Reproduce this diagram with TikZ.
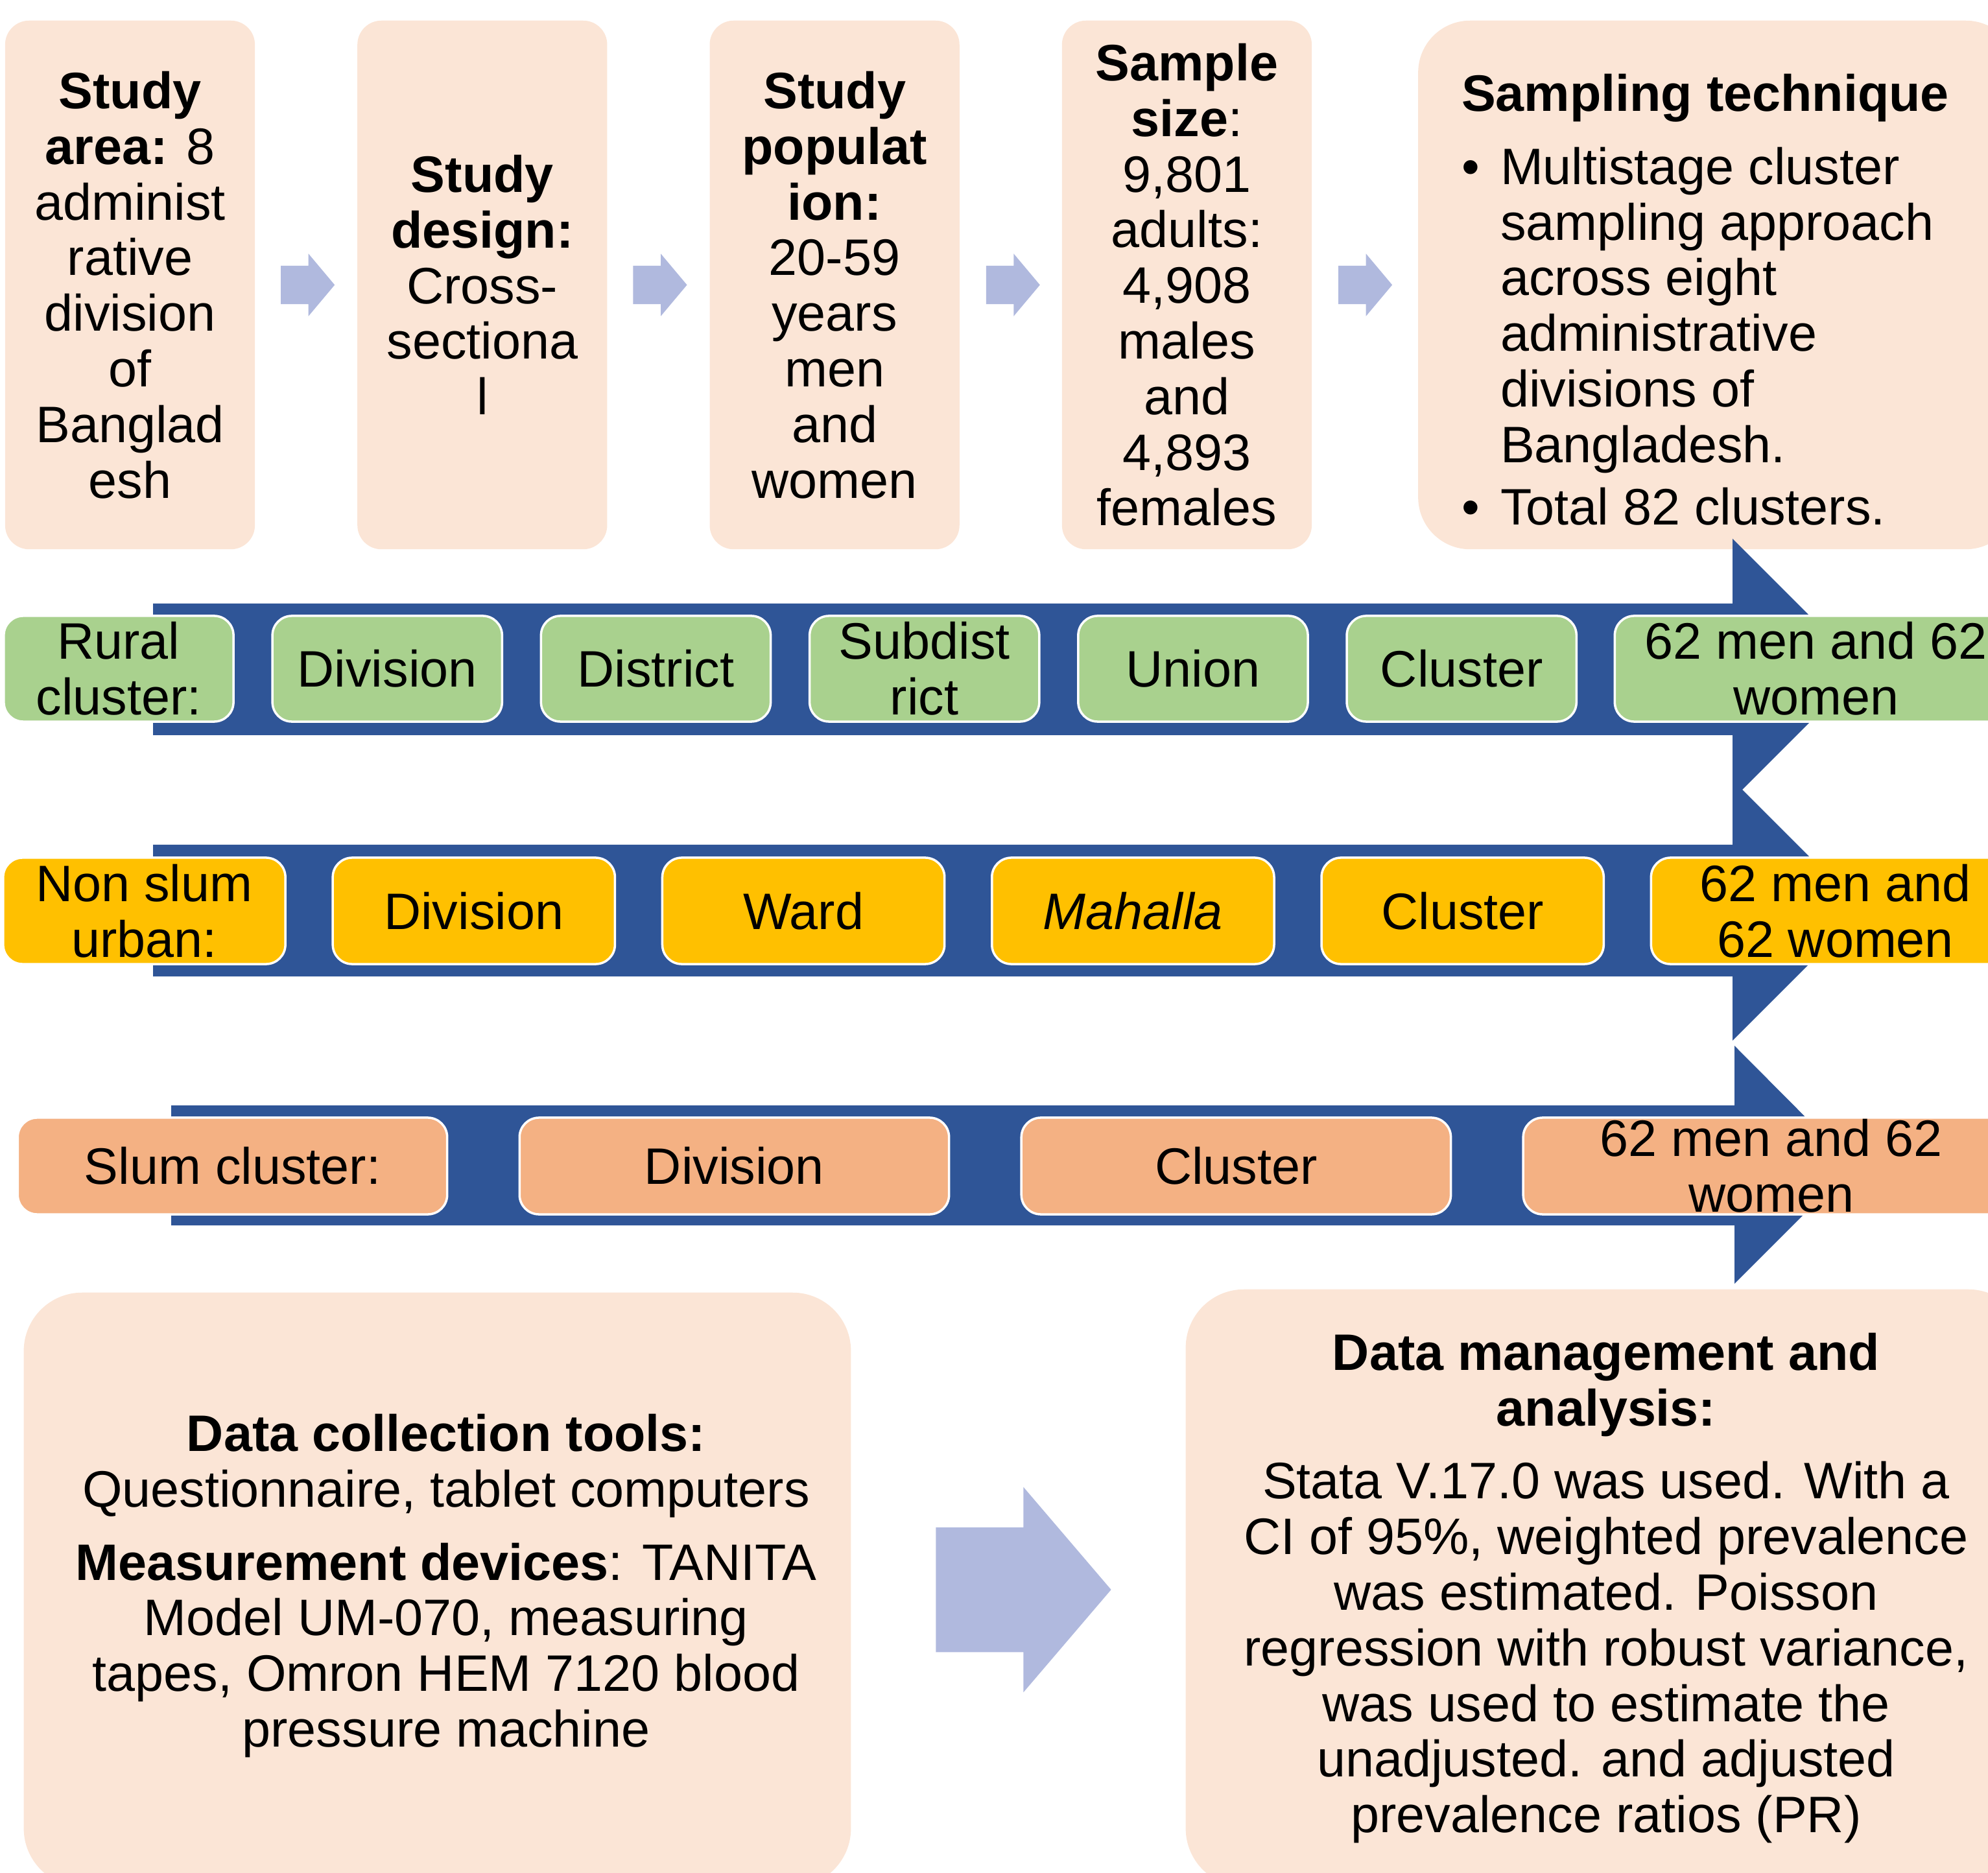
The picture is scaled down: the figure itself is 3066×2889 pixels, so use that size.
\documentclass[tikz,border=0pt]{standalone}
\usepackage{fontspec}
\setmainfont{Liberation Sans}
\usetikzlibrary{positioning}
\usetikzlibrary{shapes.arrows}

\definecolor{peach}{HTML}{FBE5D6}
\definecolor{bandblue}{HTML}{2F5597}
\definecolor{lavender}{HTML}{B0B9DE}
\definecolor{ruralgreen}{HTML}{A9D18E}
\definecolor{urbangold}{HTML}{FFC000}
\definecolor{slumsalmon}{HTML}{F4B183}

\tikzset{
  every node/.style={font=\fontsize{22.5}{24.4}\selectfont, outer sep=0pt},
  topbox/.style={rectangle, rounded corners=0.37cm, fill=peach, minimum width=3.85cm, minimum height=8.15cm, align=center, inner sep=0pt},
  bigbox/.style={rectangle, rounded corners=0.9cm, fill=peach, align=center, inner sep=0pt},
  rowbox/.style={rectangle, rounded corners=0.3cm, draw=white, line width=1pt, align=center, inner sep=0pt},
  rural/.style={rowbox, fill=ruralgreen, minimum width=3.54cm, minimum height=1.63cm},
  urban/.style={rowbox, fill=urbangold, minimum width=4.35cm, minimum height=1.64cm},
  slum/.style={rowbox, fill=slumsalmon, minimum width=6.62cm, minimum height=1.49cm},
  smallarrow/.style={single arrow, fill=lavender, inner xsep=0pt, inner ysep=0.29cm, minimum height=0.83cm, single arrow head extend=0.185cm, single arrow tip angle=100},
  bigarrow/.style={single arrow, fill=lavender, inner xsep=0pt, inner ysep=0.955cm, minimum height=2.7cm, single arrow head extend=0.62cm, single arrow tip angle=99}
}

\begin{document}
\begin{tikzpicture}[x=0.01cm, y=-0.01cm]
 \useasboundingbox (0,0) rectangle (3066,2889);
 \clip (0,0) rectangle (3066,2889);

 % top row
 \node[topbox] (area) at (200.5,439.5) {\textbf{Study}\\\textbf{area:} 8\\administ\\rative\\division\\of\\Banglad\\esh};
 \node[topbox, right=1.58cm of area] (design) {\textbf{Study}\\\textbf{design:}\\Cross-\\sectiona\\l};
 \node[topbox, right=1.58cm of design] (popn) {\textbf{Study}\\\textbf{populat}\\\textbf{ion:}\\20-59\\years\\men\\and\\women};
 \node[topbox, right=1.58cm of popn] (size) {\textbf{Sample}\\\textbf{size}:\\9,801\\adults:\\4,908\\males\\and\\4,893\\females};
 \node[topbox, minimum width=9.24cm, rounded corners=0.8cm, right=1.64cm of size] (technique) {};
 \node[anchor=north west, align=left, inner sep=0pt] (techtext) at (2254,114) {\textbf{Sampling technique}\\[7.7pt]
   \makebox[0.6cm][l]{\textbullet}Multistage cluster\\
   \hspace*{0.6cm}sampling approach\\
   \hspace*{0.6cm}across eight\\
   \hspace*{0.6cm}administrative\\
   \hspace*{0.6cm}divisions of\\
   \hspace*{0.6cm}Bangladesh.\\[3pt]
   \makebox[0.6cm][l]{\textbullet}Total 82 clusters.};

 \node[smallarrow, right=0.4cm of area, anchor=tail] (ar1) {};
 \node[smallarrow, right=0.4cm of design, anchor=tail] (ar2) {};
 \node[smallarrow, right=0.41cm of popn, anchor=tail] (ar3) {};
 \node[smallarrow, right=0.41cm of size, anchor=tail] (ar4) {};

 % blue bands
 \fill[bandblue] (236,931) -- (2672,931) -- (2672,831) -- (2873,1032) -- (2672,1233) -- (2672,1134) -- (236,1134) -- cycle;
 \fill[bandblue] (236,1303) -- (2672,1303) -- (2672,1203) -- (2873,1404) -- (2672,1605) -- (2672,1506) -- (236,1506) -- cycle;
 \fill[bandblue] (264,1705) -- (2675,1705) -- (2675,1613) -- (2858,1797) -- (2675,1980) -- (2675,1890) -- (264,1890) -- cycle;

 % rural
 \node[rural] (rural) at (183,1031.5) {Rural\\cluster:};
 \node[rural, right=0.6cm of rural] (rdiv) {Division};
 \node[rural, right=0.6cm of rdiv] (rdist) {District};
 \node[rural, right=0.6cm of rdist] (rsub) {Subdist\\rict};
 \node[rural, right=0.6cm of rsub] (runion) {Union};
 \node[rural, right=0.6cm of runion] (rclus) {Cluster};
 \node[rural, minimum width=6.2cm, right=0.59cm of rclus] (rsample) {62 men and 62\\women};

 % non slum urban
 \node[urban] (urban) at (222.5,1405) {Non slum\\urban:};
 \node[urban, right=0.73cm of urban] (udiv) {Division};
 \node[urban, right=0.73cm of udiv] (uward) {Ward};
 \node[urban, right=0.73cm of uward] (umah) {\textit{Mahalla}};
 \node[urban, right=0.73cm of umah] (uclus) {Cluster};
 \node[urban, minimum width=5.68cm, right=0.73cm of uclus] (usample) {62 men and\\62 women};

 % slum
 \node[slum] (slum) at (358.5,1798.5) {Slum cluster:};
 \node[slum, right=1.115cm of slum] (sdiv) {Division};
 \node[slum, right=1.115cm of sdiv] (sclus) {Cluster};
 \node[slum, minimum width=7.65cm, right=1.115cm of sclus] (ssample) {62 men and 62\\women};

 % bottom row
 \node[bigbox, minimum width=12.75cm, minimum height=9.16cm] (tools) at (674.5,2452) {};
 \node[align=center, inner sep=0pt] (toolstext) at (688,2446) {\textbf{Data collection tools:}\\Questionnaire, tablet computers\\[7.7pt]\textbf{Measurement devices}: TANITA\\Model UM-070, measuring\\tapes, Omron HEM 7120 blood\\pressure machine};
 \node[bigbox, minimum width=12.96cm, minimum height=9.21cm] (analysis) at (2477,2449.5) {\textbf{Data management and}\\\textbf{analysis:}\\[7.7pt]Stata V.17.0 was used. With a\\CI of 95\%, weighted prevalence\\was estimated. Poisson\\regression with robust variance,\\was used to estimate the\\unadjusted. and adjusted\\prevalence ratios (PR)};
 \node[bigarrow, right=1.31cm of tools, anchor=tail] (toanalysis) {};
\end{tikzpicture}
\end{document}
